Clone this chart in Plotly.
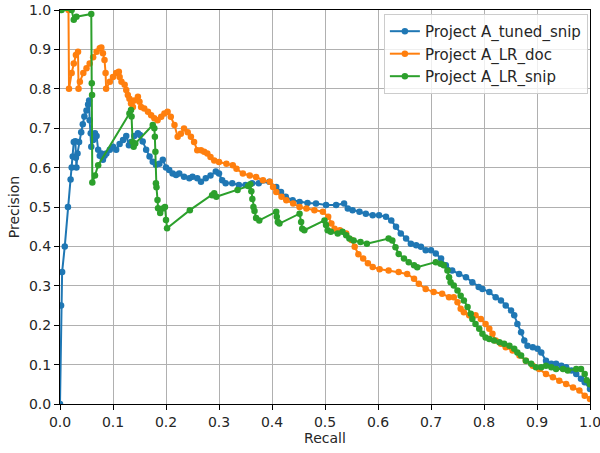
import plotly.graph_objects as go

# Precision-recall curves for three Project A models
tuned_snip_recall = [0.0, 0.002, 0.004, 0.009, 0.015, 0.02, 0.022, 0.024, 0.026, 0.029, 0.03, 0.031,
                     0.033, 0.036, 0.04, 0.043, 0.046, 0.05, 0.053, 0.055, 0.056, 0.058, 0.059, 0.0625,
                     0.066, 0.069, 0.072, 0.075, 0.078, 0.081, 0.084, 0.0875, 0.094, 0.1, 0.106, 0.1125,
                     0.119, 0.125, 0.13, 0.134, 0.14, 0.147, 0.151, 0.156, 0.1625, 0.169, 0.175, 0.181,
                     0.1875, 0.194, 0.2, 0.206, 0.2125, 0.219, 0.225, 0.234, 0.244, 0.25, 0.259, 0.266,
                     0.275, 0.284, 0.294, 0.3, 0.306, 0.3125, 0.325, 0.3375, 0.35, 0.3625, 0.375, 0.395,
                     0.408, 0.417, 0.426, 0.439, 0.452, 0.467, 0.483, 0.502, 0.521, 0.536, 0.543, 0.552,
                     0.565, 0.577, 0.59, 0.602, 0.615, 0.625, 0.634, 0.643, 0.653, 0.662, 0.672, 0.681,
                     0.69, 0.7, 0.709, 0.719, 0.728, 0.74, 0.753, 0.766, 0.778, 0.79, 0.797, 0.81, 0.822,
                     0.832, 0.841, 0.851, 0.857, 0.863, 0.87, 0.876, 0.882, 0.892, 0.901, 0.908, 0.917,
                     0.927, 0.936, 0.946, 0.955, 0.965, 0.974, 0.983, 0.99, 1.0]
tuned_snip_precision = [0.0, 0.25, 0.335, 0.40, 0.50, 0.57, 0.60, 0.628, 0.665, 0.667, 0.625, 0.60,
                        0.636, 0.665, 0.69, 0.71, 0.73, 0.745, 0.76, 0.77, 0.72, 0.687, 0.653, 0.67,
                        0.687, 0.68, 0.645, 0.63, 0.636, 0.62, 0.63, 0.636, 0.645, 0.653, 0.645, 0.66,
                        0.67, 0.68, 0.657, 0.665, 0.68, 0.687, 0.683, 0.666, 0.645, 0.628, 0.615, 0.607,
                        0.61, 0.62, 0.60, 0.594, 0.585, 0.581, 0.585, 0.577, 0.573, 0.577, 0.573, 0.564,
                        0.573, 0.58, 0.59, 0.585, 0.568, 0.56, 0.56, 0.556, 0.556, 0.56, 0.56, 0.564,
                        0.551, 0.538, 0.526, 0.517, 0.513, 0.51, 0.509, 0.505, 0.505, 0.509, 0.496, 0.492,
                        0.488, 0.483, 0.479, 0.479, 0.475, 0.466, 0.45, 0.433, 0.42, 0.407, 0.403, 0.399,
                        0.39, 0.39, 0.382, 0.369, 0.352, 0.339, 0.33, 0.322, 0.309, 0.297, 0.292, 0.284, 0.271,
                        0.263, 0.25, 0.237, 0.225, 0.203, 0.182, 0.161, 0.148, 0.144, 0.14, 0.131, 0.11,
                        0.102, 0.102, 0.097, 0.093, 0.085, 0.076, 0.064, 0.055, 0.038]

lr_doc_recall = [0.016, 0.017, 0.022, 0.026, 0.03, 0.034, 0.035, 0.0375, 0.044, 0.05, 0.056, 0.0625,
                 0.069, 0.075, 0.078, 0.081, 0.084, 0.086, 0.087, 0.094, 0.1, 0.106, 0.111, 0.1125,
                 0.116, 0.122, 0.125, 0.128, 0.131, 0.134, 0.1375, 0.14, 0.147, 0.15, 0.153, 0.159,
                 0.166, 0.172, 0.178, 0.184, 0.191, 0.197, 0.203, 0.209, 0.216, 0.222, 0.228, 0.234,
                 0.241, 0.247, 0.253, 0.259, 0.266, 0.272, 0.278, 0.284, 0.291, 0.3, 0.314, 0.326,
                 0.333, 0.345, 0.358, 0.37, 0.383, 0.396, 0.402, 0.408, 0.418, 0.427, 0.44, 0.452,
                 0.465, 0.48, 0.496, 0.506, 0.512, 0.518, 0.528, 0.54, 0.55, 0.556, 0.563, 0.572,
                 0.581, 0.59, 0.603, 0.62, 0.639, 0.655, 0.668, 0.677, 0.69, 0.705, 0.721, 0.734,
                 0.743, 0.75, 0.756, 0.762, 0.772, 0.784, 0.794, 0.803, 0.81, 0.816, 0.822, 0.832,
                 0.841, 0.854, 0.867, 0.879, 0.892, 0.904, 0.917, 0.93, 0.942, 0.955, 0.968, 0.98,
                 0.99, 1.0]
lr_doc_precision = [1.0, 0.80, 0.84, 0.864, 0.886, 0.894, 0.80, 0.818, 0.84, 0.852, 0.864, 0.88,
                    0.894, 0.903, 0.905, 0.89, 0.873, 0.84, 0.80, 0.818, 0.83, 0.84, 0.843, 0.83,
                    0.818, 0.81, 0.797, 0.784, 0.775, 0.763, 0.754, 0.77, 0.78, 0.767, 0.754, 0.75,
                    0.742, 0.733, 0.725, 0.72, 0.729, 0.737, 0.742, 0.729, 0.708, 0.678, 0.686, 0.699,
                    0.69, 0.678, 0.665, 0.644, 0.644, 0.64, 0.636, 0.627, 0.618, 0.614, 0.61, 0.606,
                    0.597, 0.585, 0.58, 0.576, 0.568, 0.564, 0.551, 0.538, 0.526, 0.517, 0.509, 0.5,
                    0.496, 0.492, 0.488, 0.475, 0.458, 0.445, 0.441, 0.433, 0.416, 0.399, 0.38, 0.369,
                    0.357, 0.348, 0.342, 0.339, 0.335, 0.33, 0.318, 0.305, 0.292, 0.284, 0.28, 0.271,
                    0.271, 0.258, 0.242, 0.233, 0.225, 0.225, 0.216, 0.203, 0.191, 0.178, 0.161, 0.153,
                    0.144, 0.136, 0.123, 0.11, 0.097, 0.089, 0.076, 0.068, 0.059, 0.051, 0.042, 0.034,
                    0.021, 0.013]

lr_snip_recall = [0.003, 0.022, 0.026, 0.031, 0.059, 0.06, 0.0605, 0.061, 0.066, 0.072, 0.131, 0.134,
                  0.135, 0.137, 0.139, 0.142, 0.175, 0.178, 0.179, 0.18, 0.181, 0.182, 0.184, 0.185,
                  0.189, 0.194, 0.198, 0.2, 0.202, 0.245, 0.287, 0.291, 0.295, 0.335, 0.355, 0.359,
                  0.361, 0.363, 0.365, 0.367, 0.37, 0.376, 0.408, 0.409, 0.411, 0.414, 0.452, 0.455,
                  0.457, 0.461, 0.499, 0.502, 0.505, 0.511, 0.524, 0.533, 0.54, 0.546, 0.554, 0.567,
                  0.579, 0.62, 0.627, 0.633, 0.639, 0.649, 0.658, 0.668, 0.674, 0.709, 0.718, 0.724,
                  0.731, 0.734, 0.737, 0.743, 0.75, 0.756, 0.762, 0.769, 0.775, 0.778, 0.784, 0.791,
                  0.797, 0.803, 0.81, 0.819, 0.829, 0.838, 0.848, 0.857, 0.863, 0.87, 0.879, 0.889,
                  0.898, 0.908, 0.917, 0.927, 0.936, 0.949, 0.958, 0.974, 0.983, 0.99, 0.994, 1.0]
lr_snip_precision = [1.0, 1.0, 0.975, 0.983, 0.99, 0.814, 0.784, 0.562, 0.58, 0.606, 0.737, 0.746,
                     0.73, 0.665, 0.653, 0.661, 0.708, 0.70, 0.678, 0.64, 0.56, 0.55, 0.518, 0.497,
                     0.485, 0.496, 0.50, 0.467, 0.446, 0.492, 0.53, 0.535, 0.526, 0.543, 0.553, 0.558,
                     0.54, 0.52, 0.50, 0.49, 0.472, 0.466, 0.488, 0.475, 0.462, 0.458, 0.483, 0.462,
                     0.445, 0.441, 0.466, 0.454, 0.441, 0.437, 0.433, 0.437, 0.428, 0.42, 0.415, 0.411,
                     0.407, 0.42, 0.415, 0.398, 0.381, 0.369, 0.36, 0.352, 0.347, 0.36, 0.356, 0.352,
                     0.339, 0.322, 0.309, 0.301, 0.288, 0.275, 0.263, 0.246, 0.229, 0.216, 0.203, 0.191,
                     0.178, 0.169, 0.165, 0.161, 0.157, 0.153, 0.148, 0.14, 0.131, 0.123, 0.11, 0.102,
                     0.093, 0.093, 0.097, 0.093, 0.089, 0.089, 0.085, 0.089, 0.089, 0.076, 0.06, 0.05]

series_names = ["Project A_tuned_snip", "Project A_LR_doc", "Project A_LR_snip"]
series_colors = ["#1f77b4", "#ff7f0e", "#2ca02c"]
tick_values = [0.0, 0.1, 0.2, 0.3, 0.4, 0.5, 0.6, 0.7, 0.8, 0.9, 1.0]

curves = [
    (tuned_snip_recall, tuned_snip_precision),
    (lr_doc_recall, lr_doc_precision),
    (lr_snip_recall, lr_snip_precision),
]

fig = go.Figure()
for (rec, prec), name, color in zip(curves, series_names, series_colors):
    fig.add_trace(go.Scatter(
        x=rec, y=prec, name=name, mode="lines+markers",
        line=dict(color=color, width=2),
        marker=dict(color=color, size=6.5),
    ))

axis_style = dict(
    range=[0, 1],
    tickvals=tick_values,
    tickformat=".1f",
    automargin=False,
    ticklabeloverflow="allow",
    showgrid=True,
    gridcolor="#b0b0b0",
    gridwidth=1,
    zeroline=False,
    showline=True,
    mirror=True,
    linecolor="black",
    linewidth=1,
    ticks="outside",
    ticklen=5,
    tickcolor="black",
    tickfont=dict(size=14, color="#262626"),
)

fig.update_layout(
    width=600,
    height=453,
    margin=dict(l=60, r=10, t=10, b=49),
    paper_bgcolor="white",
    plot_bgcolor="white",
    font=dict(family="DejaVu Sans", size=14, color="#262626"),
    xaxis=dict(axis_style, title=dict(text="Recall", font=dict(size=14), standoff=4)),
    yaxis=dict(axis_style, title=dict(text="Precision", font=dict(size=14), standoff=6)),
    legend=dict(
        x=0.996, y=0.99, xanchor="right", yanchor="top",
        bgcolor="rgba(255,255,255,0.8)",
        bordercolor="#cccccc", borderwidth=1,
        font=dict(family="DejaVu Sans", size=15, color="#262626"),
        itemwidth=30,
        tracegroupgap=0,
    ),
    showlegend=True,
)

fig.write_html("out.html")
